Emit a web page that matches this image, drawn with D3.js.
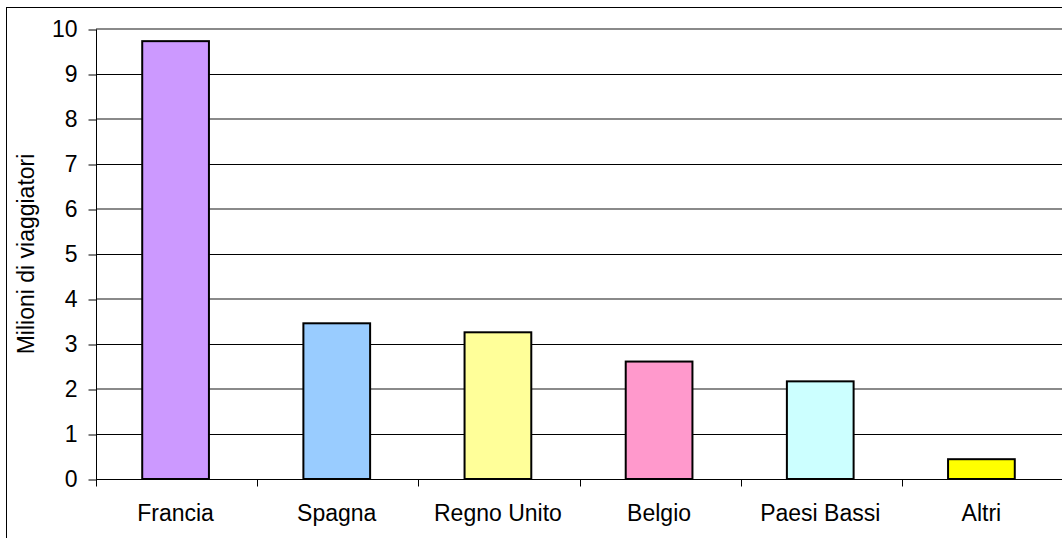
<!DOCTYPE html>
<html>
<head>
<meta charset="utf-8">
<script src="https://cdn.jsdelivr.net/npm/d3@7"></script>
<style>
  html, body { margin: 0; padding: 0; background: #fff; }
  svg { display: block; }
  text { font-family: "Liberation Sans", Arial, sans-serif; fill: #000; }
</style>
</head>
<body>
<svg id="chart" width="1062" height="538"></svg>
<script>
// Viaggiatori per paese di destinazione (milioni)
const categories = ["Francia", "Spagna", "Regno Unito", "Belgio", "Paesi Bassi", "Altri"];
const values = [9.73, 3.46, 3.26, 2.61, 2.17, 0.44];
const colors = ["#CC99FF", "#99CCFF", "#FFFF99", "#FF99CC", "#CCFFFF", "#FFFF00"];
const yTicks = [0, 1, 2, 3, 4, 5, 6, 7, 8, 9, 10];
const yTitle = "Milioni di viaggiatori";

const svg = d3.select("#chart");
const plot = { left: 96, right: 1063, top: 29, bottom: 479 };
const fontSize = "23px";

// outer chart frame (runs past the canvas on the right and bottom)
svg.append("rect")
  .attr("x", 6.5).attr("y", 7.5)
  .attr("width", 1200).attr("height", 700)
  .attr("fill", "#fff").attr("stroke", "#000").attr("stroke-width", 1);

const x = d3.scaleBand().domain(categories).range([plot.left, plot.right]).padding(0);
const y = d3.scaleLinear().domain([0, 10]).range([plot.bottom, plot.top]);
const barFrac = 0.414;

// horizontal gridlines
svg.append("g").selectAll("line")
  .data(yTicks.filter(d => d > 0))
  .join("line")
  .attr("x1", plot.left).attr("x2", plot.right)
  .attr("y1", d => y(d) + (d % 2 === 0 ? 0 : 0.5))
  .attr("y2", d => y(d) + (d % 2 === 0 ? 0 : 0.5))
  .attr("stroke", d => d % 2 === 0 ? "#8a8a8a" : "#000")
  .attr("stroke-width", d => d % 2 === 0 ? 2 : 1);

// bars
svg.append("g").selectAll("rect")
  .data(categories)
  .join("rect")
  .attr("x", d => x(d) + x.bandwidth() * (1 - barFrac) / 2 - 1)
  .attr("width", x.bandwidth() * barFrac)
  .attr("y", (d, i) => y(values[i]))
  .attr("height", (d, i) => y(0) - y(values[i]))
  .attr("fill", (d, i) => colors[i])
  .attr("stroke", "#000")
  .attr("stroke-width", 2);

// y axis
const yAxis = d3.axisLeft(y).tickValues(yTicks).tickSize(8).tickPadding(11).tickFormat(d3.format("d"));
const gy = svg.append("g").attr("transform", `translate(${plot.left + 0.5},0.5)`).call(yAxis);
gy.select(".domain").attr("stroke", "#000").attr("d", `M0,${plot.top}V${plot.bottom}`);
gy.selectAll(".tick line").attr("stroke", "#000");
gy.selectAll(".tick text")
  .style("font-size", fontSize)
  .style("font-family", "'Liberation Sans', Arial, sans-serif")
  .attr("fill", "#000");

// x axis: ticks on category boundaries
const gx = svg.append("g").attr("transform", `translate(0,${plot.bottom + 0.5})`);
gx.append("line")
  .attr("x1", plot.left).attr("x2", plot.right)
  .attr("stroke", "#000");
gx.selectAll("line.tk")
  .data(categories)
  .join("line")
  .attr("class", "tk")
  .attr("x1", d => Math.round(x(d)) + 0.5).attr("x2", d => Math.round(x(d)) + 0.5)
  .attr("y1", 0).attr("y2", 7)
  .attr("stroke", "#000");
gx.selectAll("text")
  .data(categories)
  .join("text")
  .attr("x", d => x(d) + x.bandwidth() / 2 - 1)
  .attr("y", 41)
  .attr("text-anchor", "middle")
  .style("font-size", fontSize)
  .text(d => d);

// y axis title
svg.append("text")
  .attr("transform", `translate(34,${(plot.top + plot.bottom) / 2}) rotate(-90)`)
  .attr("text-anchor", "middle")
  .style("font-size", fontSize)
  .text(yTitle);
</script>
</body>
</html>
